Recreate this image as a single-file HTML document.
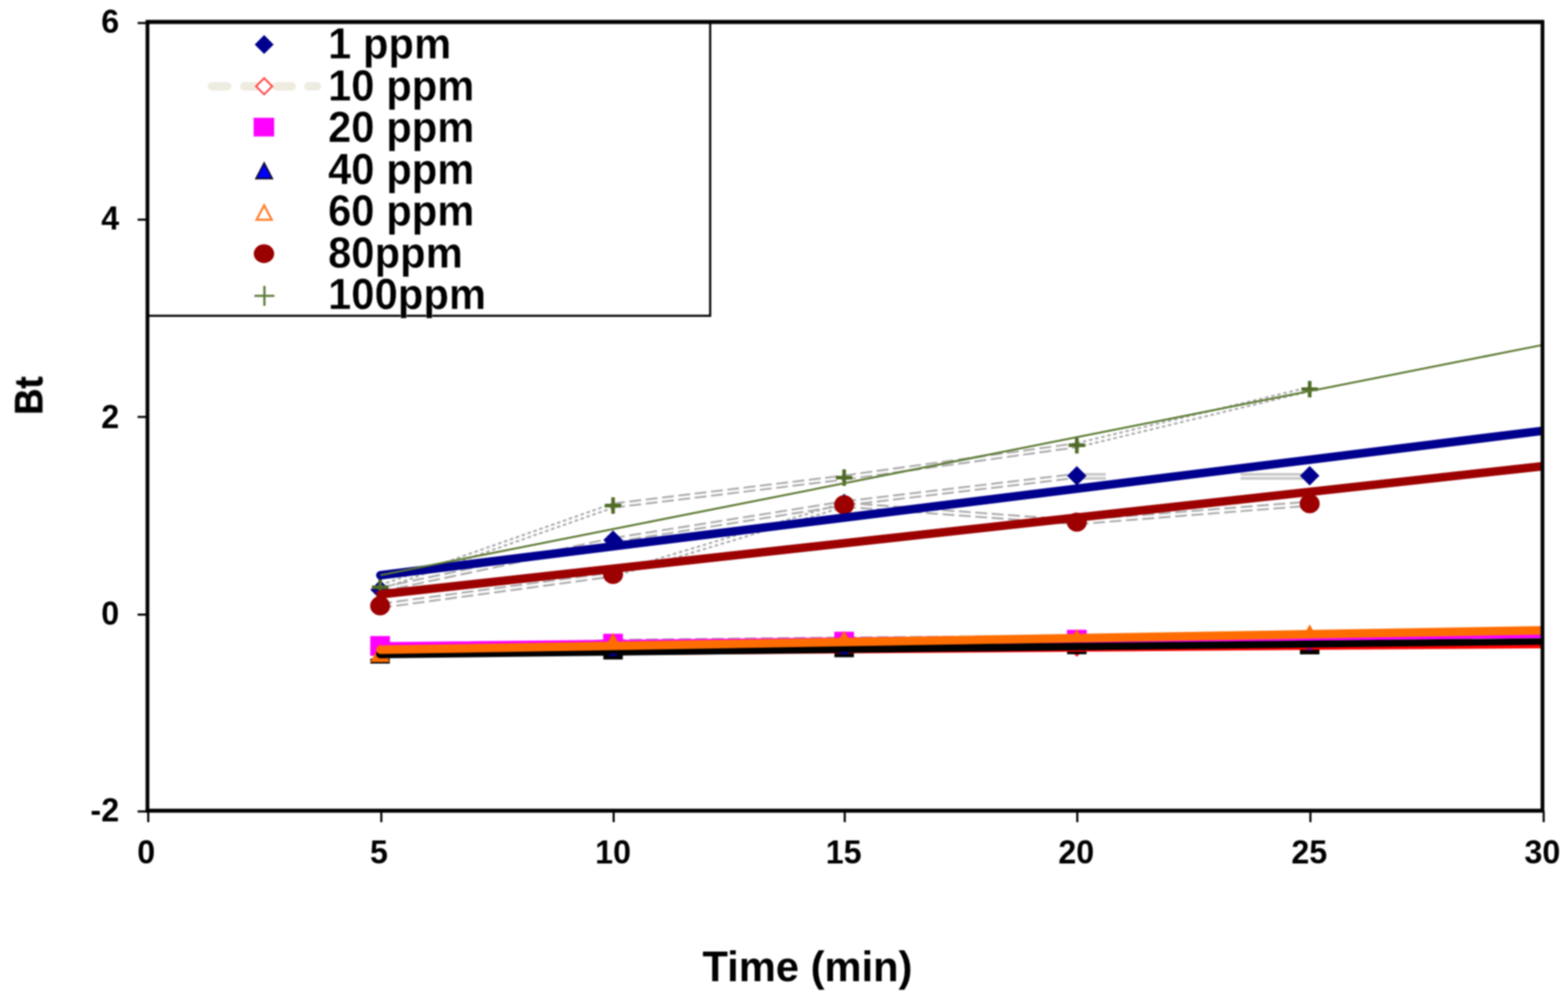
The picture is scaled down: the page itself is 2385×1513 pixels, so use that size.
<!DOCTYPE html>
<html lang="en">
<head>
<meta charset="utf-8">
<title>Bt versus Time (min)</title>
<style>
  html, body { margin: 0; padding: 0; background: #ffffff; }
  body { width: 2385px; height: 1513px; }
  svg { display: block; }
  text { font-family: "Liberation Sans", Arial, Helvetica, sans-serif; font-weight: bold; fill: #000000; }
  .tick { font-size: 49.0px; }
  .leg { font-size: 63.6px; stroke: #ffffff; stroke-width: 0.4px; paint-order: fill stroke; }
  .title { font-size: 63.4px; }
  .ytitle { font-size: 55px; stroke: #000000; stroke-width: 0.9px; }
</style>
</head>
<body>
<svg width="2385" height="1513" viewBox="0 0 2385 1513" role="img" aria-label="Bt versus Time (min) for 1 to 100 ppm">
<defs>
  <clipPath id="plot"><rect x="224" y="33" width="2122.2" height="1200"/></clipPath>
  <filter id="soft" x="-2%" y="-2%" width="104%" height="104%" color-interpolation-filters="sRGB">
    <feGaussianBlur stdDeviation="0.9"/>
  </filter>
</defs>
<rect x="0" y="0" width="2385" height="1513" fill="#ffffff"/>
<g filter="url(#soft)">

<g id="legend-box">
<rect x="225" y="33" width="855.2" height="447.2" fill="#ffffff" stroke="#000000" stroke-width="3.2"/>
</g>
<g id="series-lines" fill="none">
<line x1="578.2" y1="889.8" x2="932.5" y2="765.6" stroke="#ababab" stroke-width="2.9" stroke-dasharray="5.5 4"/><line x1="578.2" y1="896.2" x2="932.5" y2="772.0" stroke="#ababab" stroke-width="2.9" stroke-dasharray="5.5 4"/>
<line x1="932.5" y1="765.7" x2="1284.0" y2="723.1" stroke="#ababab" stroke-width="2.9" stroke-dasharray="18 7"/><line x1="932.5" y1="771.9" x2="1284.0" y2="729.3" stroke="#ababab" stroke-width="2.9" stroke-dasharray="18 7"/>
<line x1="1284.0" y1="723.1" x2="1637.9" y2="673.9" stroke="#ababab" stroke-width="2.9" stroke-dasharray="18 7"/><line x1="1284.0" y1="729.3" x2="1637.9" y2="680.1" stroke="#ababab" stroke-width="2.9" stroke-dasharray="18 7"/>
<line x1="1637.9" y1="673.8" x2="1992.1" y2="588.6" stroke="#ababab" stroke-width="2.9" stroke-dasharray="5.5 4"/><line x1="1637.9" y1="680.2" x2="1992.1" y2="595.0" stroke="#ababab" stroke-width="2.9" stroke-dasharray="5.5 4"/>
<line x1="578.2" y1="893.6" x2="932.5" y2="818.2" stroke="#ababab" stroke-width="2.9" stroke-dasharray="18 7"/><line x1="578.2" y1="899.8" x2="932.5" y2="824.4" stroke="#ababab" stroke-width="2.9" stroke-dasharray="18 7"/>
<line x1="932.5" y1="818.2" x2="1284.0" y2="762.4" stroke="#ababab" stroke-width="2.9" stroke-dasharray="18 7"/><line x1="932.5" y1="824.4" x2="1284.0" y2="768.6" stroke="#ababab" stroke-width="2.9" stroke-dasharray="18 7"/>
<line x1="1284.0" y1="762.4" x2="1637.9" y2="720.4" stroke="#ababab" stroke-width="2.9" stroke-dasharray="18 7"/><line x1="1284.0" y1="768.6" x2="1637.9" y2="726.6" stroke="#ababab" stroke-width="2.9" stroke-dasharray="18 7"/>
<rect x="1640" y="719.3" width="42" height="10.2" fill="#ececec"/><rect x="1887" y="719.3" width="100" height="10.2" fill="#ececec"/>
<line x1="1640.0" y1="721.1" x2="1682.0" y2="721.1" stroke="#c2c2c2" stroke-width="3.0" stroke-dasharray="400 0"/><line x1="1640.0" y1="727.7" x2="1682.0" y2="727.7" stroke="#c2c2c2" stroke-width="3.0" stroke-dasharray="400 0"/>
<line x1="1887.0" y1="721.1" x2="1987.0" y2="721.1" stroke="#c2c2c2" stroke-width="3.0" stroke-dasharray="400 0"/><line x1="1887.0" y1="727.7" x2="1987.0" y2="727.7" stroke="#c2c2c2" stroke-width="3.0" stroke-dasharray="400 0"/>
<line x1="578.2" y1="918.1" x2="932.5" y2="870.4" stroke="#ababab" stroke-width="2.9" stroke-dasharray="18 7"/><line x1="578.2" y1="924.3" x2="932.5" y2="876.6" stroke="#ababab" stroke-width="2.9" stroke-dasharray="18 7"/>
<line x1="932.5" y1="870.3" x2="1284.0" y2="764.4" stroke="#ababab" stroke-width="2.9" stroke-dasharray="5.5 4"/><line x1="932.5" y1="876.7" x2="1284.0" y2="770.8" stroke="#ababab" stroke-width="2.9" stroke-dasharray="5.5 4"/>
<line x1="1284.0" y1="764.5" x2="1637.9" y2="790.9" stroke="#ababab" stroke-width="2.9" stroke-dasharray="18 7"/><line x1="1284.0" y1="770.7" x2="1637.9" y2="797.1" stroke="#ababab" stroke-width="2.9" stroke-dasharray="18 7"/>
<line x1="1637.9" y1="790.9" x2="1992.1" y2="762.8" stroke="#ababab" stroke-width="2.9" stroke-dasharray="18 7"/><line x1="1637.9" y1="797.1" x2="1992.1" y2="769.0" stroke="#ababab" stroke-width="2.9" stroke-dasharray="18 7"/>
<line x1="578.2" y1="990.1" x2="932.5" y2="972.9" stroke="#ababab" stroke-width="2.9" stroke-dasharray="18 7"/><line x1="578.2" y1="996.3" x2="932.5" y2="979.1" stroke="#ababab" stroke-width="2.9" stroke-dasharray="18 7"/>
<line x1="932.5" y1="972.9" x2="1284.0" y2="969.4" stroke="#ababab" stroke-width="2.9" stroke-dasharray="18 7"/><line x1="932.5" y1="979.1" x2="1284.0" y2="975.6" stroke="#ababab" stroke-width="2.9" stroke-dasharray="18 7"/>
<line x1="1284.0" y1="969.4" x2="1637.9" y2="966.8" stroke="#ababab" stroke-width="2.9" stroke-dasharray="18 7"/><line x1="1284.0" y1="975.6" x2="1637.9" y2="973.0" stroke="#ababab" stroke-width="2.9" stroke-dasharray="18 7"/>
<line x1="1637.9" y1="966.8" x2="1992.1" y2="959.9" stroke="#ababab" stroke-width="2.9" stroke-dasharray="18 7"/><line x1="1637.9" y1="973.0" x2="1992.1" y2="966.1" stroke="#ababab" stroke-width="2.9" stroke-dasharray="18 7"/>
</g>
<g id="markers-a">
<path d="M578.2 881.9 L593.0 896.7 L578.2 911.5 L563.4 896.7 Z" fill="#00008e"/>
<path d="M932.5 806.5 L947.3 821.3 L932.5 836.1 L917.7 821.3 Z" fill="#00008e"/>
<path d="M1284.0 750.7 L1298.8 765.5 L1284.0 780.3 L1269.2 765.5 Z" fill="#00008e"/>
<path d="M1637.9 708.7 L1652.7 723.5 L1637.9 738.3 L1623.1 723.5 Z" fill="#00008e"/>
<path d="M1992.1 708.6 L2006.9 723.4 L1992.1 738.2 L1977.3 723.4 Z" fill="#00008e"/>
<path d="M578.2 973.5 L592.7 988.0 L578.2 1002.5 L563.7 988.0 Z M578.2 978.0 L568.2 988.0 L578.2 998.0 L588.2 988.0 Z" fill="#ff1010" fill-rule="evenodd"/>
<path d="M932.5 969.5 L947.0 984.0 L932.5 998.5 L918.0 984.0 Z M932.5 974.0 L922.5 984.0 L932.5 994.0 L942.5 984.0 Z" fill="#ff1010" fill-rule="evenodd"/>
<path d="M1284.0 966.5 L1298.5 981.0 L1284.0 995.5 L1269.5 981.0 Z M1284.0 971.0 L1274.0 981.0 L1284.0 991.0 L1294.0 981.0 Z" fill="#ff1010" fill-rule="evenodd"/>
<path d="M1637.9 969.8 L1652.4 984.3 L1637.9 998.8 L1623.4 984.3 Z M1637.9 974.3 L1627.9 984.3 L1637.9 994.3 L1647.9 984.3 Z" fill="#ff1010" fill-rule="evenodd"/>
<path d="M1992.1 959.5 L2006.6 974.0 L1992.1 988.5 L1977.6 974.0 Z M1992.1 964.0 L1982.1 974.0 L1992.1 984.0 L2002.1 974.0 Z" fill="#ff1010" fill-rule="evenodd"/>
<rect x="563.2" y="967.2" width="30.0" height="30.0" fill="#ff00ff"/>
<rect x="917.5" y="963.7" width="30.0" height="30.0" fill="#ff00ff"/>
<rect x="1269.0" y="960.6" width="30.0" height="30.0" fill="#ff00ff"/>
<rect x="1622.9" y="957.7" width="30.0" height="30.0" fill="#ff00ff"/>
<rect x="1977.1" y="958.5" width="30.0" height="30.0" fill="#ff00ff"/>
<path d="M578.2 981.4 L593.0 1009.0 L563.4 1009.0 Z" fill="#000000"/><path d="M578.2 988.6 L569.1 1005.6 L587.3 1005.6 Z" fill="#0000c0"/>
<rect x="563.4" y="1001.5" width="29.6" height="7.5" fill="#000000"/>
<path d="M932.5 975.0 L947.3 1002.6 L917.7 1002.6 Z" fill="#000000"/><path d="M932.5 982.2 L923.4 999.2 L941.6 999.2 Z" fill="#0000c0"/>
<rect x="917.7" y="995.1" width="29.6" height="7.5" fill="#000000"/>
<path d="M1284.0 971.6 L1298.8 999.2 L1269.2 999.2 Z" fill="#000000"/><path d="M1284.0 978.8 L1274.9 995.8 L1293.1 995.8 Z" fill="#0000c0"/>
<rect x="1269.2" y="991.7" width="29.6" height="7.5" fill="#000000"/>
<path d="M1637.9 967.0 L1652.7 994.6 L1623.1 994.6 Z" fill="#000000"/><path d="M1637.9 974.2 L1628.8 991.2 L1647.0 991.2 Z" fill="#0000c0"/>
<rect x="1623.1" y="987.1" width="29.6" height="7.5" fill="#000000"/>
<path d="M1992.1 967.4 L2006.9 995.0 L1977.3 995.0 Z" fill="#000000"/><path d="M1992.1 974.6 L1983.0 991.6 L2001.2 991.6 Z" fill="#0000c0"/>
<rect x="1977.3" y="987.5" width="29.6" height="7.5" fill="#000000"/>
</g>
<g id="trend-a" fill="none" clip-path="url(#plot)">
<line x1="578.6" y1="992.6" x2="2346.0" y2="979.4" stroke="#ff0000" stroke-width="12.5" stroke-linecap="round"/>
<line x1="578.6" y1="982.8" x2="2346.0" y2="964.2" stroke="#ff00ff" stroke-width="12.5" stroke-linecap="round"/>
</g>
<g id="markers-b">
<path d="M578.2 979.7 L593.2 1006.7 L563.2 1006.7 Z" fill="#ff6d00"/><path d="M578.2 992.1 L573.4 1000.7 L583.0 1000.7 Z" fill="#ff6d00"/>
<path d="M932.5 962.5 L942.2 980.0 L922.8 980.0 Z" fill="#ff6d00"/>
<path d="M1284.0 959.0 L1293.7 976.5 L1274.3 976.5 Z" fill="#ff6d00"/>
<path d="M1637.9 956.4 L1647.6 973.9 L1628.2 973.9 Z" fill="#ff6d00"/>
<path d="M1992.1 949.5 L2001.8 967.0 L1982.4 967.0 Z" fill="#ff6d00"/>
</g>
<g id="trend-b" fill="none" clip-path="url(#plot)">
<path d="M578.6 987.6 L2346.0 970.6 L2346.0 980.6 L578.6 1001.0 Z" fill="#000000" stroke="none"/>
<circle cx="578.6" cy="994.3" r="6.7" fill="#000000"/>
<rect x="926.6" y="993.6" width="12.2" height="4.6" fill="#000078"/>
<rect x="1277.2" y="991.2" width="13.4" height="3.8" fill="#00007c"/>
<rect x="1987.0" y="985.2" width="10.0" height="3.8" fill="#8a0070"/>
<line x1="578.6" y1="988.0" x2="2346.0" y2="958.5" stroke="#ff6d00" stroke-width="13" stroke-linecap="round"/>
</g>
<g id="markers-c">
<ellipse cx="578.2" cy="921.2" rx="15.2" ry="14.6" fill="#9c0000"/>
<ellipse cx="932.5" cy="873.5" rx="15.2" ry="14.6" fill="#9c0000"/>
<ellipse cx="1284.0" cy="767.6" rx="15.2" ry="14.6" fill="#9c0000"/>
<ellipse cx="1637.9" cy="794.0" rx="15.2" ry="14.6" fill="#9c0000"/>
<ellipse cx="1992.1" cy="765.9" rx="15.2" ry="14.6" fill="#9c0000"/>
<path d="M565.7 893.0 H590.7 M578.2 880.5 V905.5" fill="none" stroke="#4f6b25" stroke-width="5.5"/>
<path d="M920.0 768.8 H945.0 M932.5 756.3 V781.3" fill="none" stroke="#4f6b25" stroke-width="5.5"/>
<path d="M1271.5 726.2 H1296.5 M1284.0 713.7 V738.7" fill="none" stroke="#4f6b25" stroke-width="5.5"/>
<path d="M1625.4 677.0 H1650.4 M1637.9 664.5 V689.5" fill="none" stroke="#4f6b25" stroke-width="5.5"/>
<path d="M1979.6 591.8 H2004.6 M1992.1 579.3 V604.3" fill="none" stroke="#4f6b25" stroke-width="5.5"/>
</g>
<g id="trend-c" fill="none" clip-path="url(#plot)">
<line x1="578.6" y1="874.8" x2="2346.0" y2="655.1" stroke="#00008e" stroke-width="13" stroke-linecap="round"/>
<line x1="578.6" y1="903.8" x2="2346.0" y2="709.0" stroke="#9c0000" stroke-width="13" stroke-linecap="round"/>
<line x1="578.6" y1="874.6" x2="2346.0" y2="524.6" stroke="#5d7a33" stroke-width="3.0" stroke-linecap="butt"/>
</g>
<g id="axes" fill="none" stroke="#000000">
<line x1="221.5" y1="33.35" x2="2349" y2="33.35" stroke-width="6.2"/>
<line x1="221.5" y1="1232.85" x2="2349" y2="1232.85" stroke-width="6.0"/>
<line x1="224.3" y1="33.4" x2="224.3" y2="1233" stroke-width="5.7"/>
<line x1="2346.2" y1="33.4" x2="2346.2" y2="1233" stroke-width="5.7"/>
<line x1="209.3" y1="35.0" x2="224" y2="35.0" stroke-width="3.2"/>
<line x1="209.3" y1="334.0" x2="224" y2="334.0" stroke-width="3.2"/>
<line x1="209.3" y1="634.0" x2="224" y2="634.0" stroke-width="3.2"/>
<line x1="209.3" y1="934.6" x2="224" y2="934.6" stroke-width="3.2"/>
<line x1="209.3" y1="1233.9" x2="224" y2="1233.9" stroke-width="3.2"/>
<line x1="225.5" y1="1233" x2="225.5" y2="1250.2" stroke-width="3.2"/>
<line x1="580.0" y1="1233" x2="580.0" y2="1250.2" stroke-width="3.2"/>
<line x1="933.4" y1="1233" x2="933.4" y2="1250.2" stroke-width="3.2"/>
<line x1="1284.9" y1="1233" x2="1284.9" y2="1250.2" stroke-width="3.2"/>
<line x1="1638.6" y1="1233" x2="1638.6" y2="1250.2" stroke-width="3.2"/>
<line x1="1993.2" y1="1233" x2="1993.2" y2="1250.2" stroke-width="3.2"/>
<line x1="2348.0" y1="1233" x2="2348.0" y2="1250.2" stroke-width="3.2"/>
</g>
<g id="ylabels">
<text class="tick" transform="translate(181.2 50.2) scale(1.0 1.03)" text-anchor="end">6</text>
<text class="tick" transform="translate(181.2 349.2) scale(1.0 1.03)" text-anchor="end">4</text>
<text class="tick" transform="translate(181.2 651.2) scale(1.0 1.03)" text-anchor="end">2</text>
<text class="tick" transform="translate(181.2 950.2) scale(1.0 1.03)" text-anchor="end">0</text>
<text class="tick" transform="translate(181.2 1249.3) scale(1.0 1.03)" text-anchor="end">-2</text>
</g>
<g id="xlabels">
<text class="tick" transform="translate(222.3 1312.5) scale(1.0 1.03)" text-anchor="middle">0</text>
<text class="tick" transform="translate(576.3 1312.5) scale(1.0 1.03)" text-anchor="middle">5</text>
<text class="tick" transform="translate(932.6 1312.5) scale(1.0 1.03)" text-anchor="middle">10</text>
<text class="tick" transform="translate(1283.2 1312.5) scale(1.0 1.03)" text-anchor="middle">15</text>
<text class="tick" transform="translate(1637.0 1312.5) scale(1.0 1.03)" text-anchor="middle">20</text>
<text class="tick" transform="translate(1991.4 1312.5) scale(1.0 1.03)" text-anchor="middle">25</text>
<text class="tick" transform="translate(2346.1 1312.5) scale(1.0 1.03)" text-anchor="middle">30</text>
</g>
<g id="legend">
<path d="M401.8 53.3 L416.2 67.7 L401.8 82.1 L387.4 67.7 Z" fill="#00008e"/>
<line x1="322.5" y1="131.2" x2="482" y2="131.2" stroke="#eeece1" stroke-width="13" stroke-linecap="round" stroke-dasharray="23 26"/>
<path d="M401.8 116.8 L416.2 131.2 L401.8 145.6 L387.4 131.2 Z" fill="#ff4d4d"/><path d="M401.8 121.0 L391.6 131.2 L401.8 141.4 L412.0 131.2 Z" fill="#ffffff"/>
<rect x="385.8" y="179.1" width="31.2" height="28.4" fill="#ff00ff"/>
<path d="M401.8 245.3 L416.2 272.7 L387.4 272.7 Z" fill="#0a0a3c"/><path d="M401.8 250.9 L391.7 270.1 L411.9 270.1 Z" fill="#0000ff"/>
<path d="M401.8 308.8 L416.0 335.8 L387.6 335.8 Z" fill="#ff7f2a"/><path d="M401.8 315.7 L392.9 332.6 L410.7 332.6 Z" fill="#ffffff"/>
<ellipse cx="401.5" cy="385.8" rx="15.5" ry="14.2" fill="#990000"/>
<path d="M387.0 449.9 H417.4 M402.2 434.7 V465.1" fill="none" stroke="#5e7a3a" stroke-width="3.4"/>
<text class="leg" transform="translate(499.0 89.4) scale(1.0 1.045)" text-anchor="start">1 ppm</text>
<text class="leg" transform="translate(499.0 152.9) scale(1.0 1.045)" text-anchor="start">10 ppm</text>
<text class="leg" transform="translate(499.0 216.3) scale(1.0 1.045)" text-anchor="start">20 ppm</text>
<text class="leg" transform="translate(499.0 279.8) scale(1.0 1.045)" text-anchor="start">40 ppm</text>
<text class="leg" transform="translate(499.0 343.2) scale(1.0 1.045)" text-anchor="start">60 ppm</text>
<text class="leg" transform="translate(499.0 406.6) scale(1.0 1.045)" text-anchor="start">80ppm</text>
<text class="leg" transform="translate(499.0 470.1) scale(1.0 1.045)" text-anchor="start">100ppm</text>
</g>
<g id="titles">
<text class="title" transform="translate(1228.2 1492.0) scale(1.0 1.02)" text-anchor="middle">Time (min)</text>
<text class="ytitle" transform="translate(63.8 601.6) rotate(-90) scale(1.0 1.07)" text-anchor="middle">Bt</text>
</g>
</g>
</svg>
</body>
</html>
